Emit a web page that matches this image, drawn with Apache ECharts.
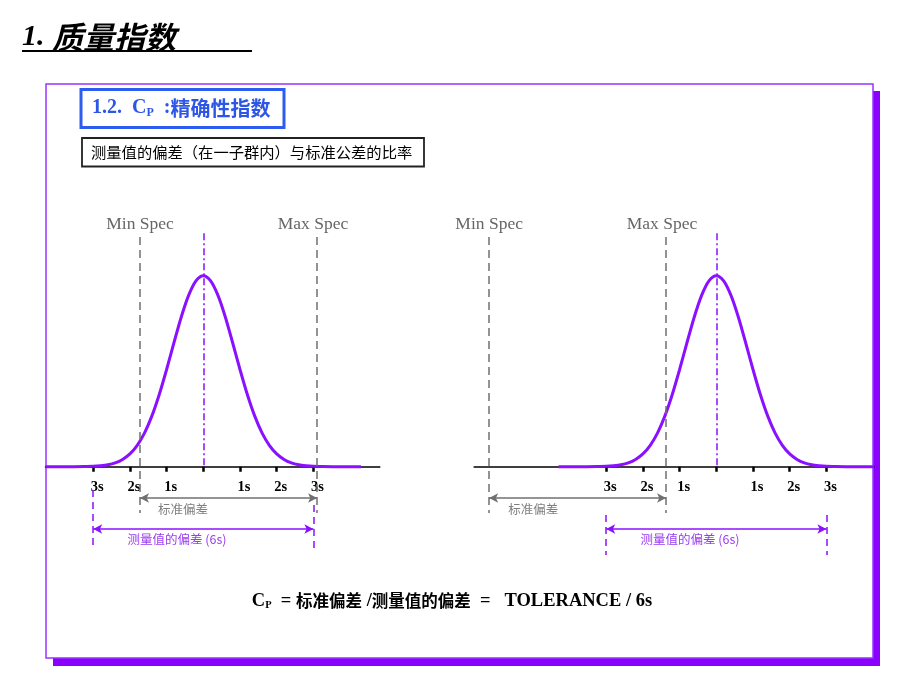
<!DOCTYPE html>
<html>
<head>
<meta charset="utf-8">
<script src="https://cdn.jsdelivr.net/npm/echarts@6.0.0/dist/echarts.min.js"></script>
<style>html,body{margin:0;padding:0;background:#fff;}#c{width:920px;height:690px;}</style>
</head>
<body>
<div id="c"></div>
<script>
// ---- data (x in units of the tick spacing "s", y relative to the peak height) ----
const curveX = [-4.3,-4.0,-3.6,-3.2,-3.0,-2.8,-2.6,-2.4,-2.2,-2.0,-1.8,-1.6,-1.4,-1.2,-1.0,-0.8,-0.6,-0.4,-0.2,0,
                0.2,0.4,0.6,0.8,1.0,1.2,1.4,1.6,1.8,2.0,2.2,2.4,2.6,2.8,3.0,3.2,3.6,4.0,4.3];
const curveY = [0,0,0,0.001,0.002,0.005,0.010,0.020,0.038,0.067,0.112,0.177,0.266,0.378,0.509,0.649,0.784,0.897,0.973,1,
                0.973,0.897,0.784,0.649,0.509,0.378,0.266,0.177,0.112,0.067,0.038,0.020,0.010,0.005,0.002,0.001,0,0,0];
const tickValues = [-3,-2,-1,0,1,2,3];
const tickLabels = ['3s','2s','1s','','1s','2s','3s'];
const specNames = ['Min Spec','Max Spec'];
const leftSpecs = [-1.725, 3.10];
const rightSpecs = [-6.19, -1.37];
const leftSpecLabelX = [-1.725, 2.99];
const rightSpecLabelX = [-6.19, -1.48];
const spread6s = [-3, 3];
const annotTexts = ['标准偏差', '测量值的偏差 (6s)'];
const leftAnnotX = [-0.553, -0.717];
const rightAnnotX = [-4.99, -0.717];

const PURPLE = '#8a10ff';
const PURPLE_TXT = '#9a3cf2';
const GRAY = '#707070';

function curveSeries(idx) {
  return {
    type: 'line', xAxisIndex: idx, yAxisIndex: idx,
    data: curveX.map((x, i) => [x, curveY[i]]),
    smooth: 0.3, showSymbol: false, silent: true, clip: false,
    lineStyle: {color: PURPLE, width: 3}, z: 3
  };
}

function annotSeries(idx, specs, specLabelX, annotX, vTop, vBot) {
  const dash = (c, d) => ({color: c, width: 1.5, type: d});
  return {
    type: 'line', xAxisIndex: idx, yAxisIndex: idx,
    data: [], showSymbol: false, silent: true, z: 4,
    markLine: {
      silent: true, symbol: 'none', label: {show: false}, animation: false,
      emphasis: {disabled: true},
      data: [
        [{coord: [specs[0], 1.202], lineStyle: dash(GRAY, [8, 5])}, {coord: [specs[0], -0.242]}],
        [{coord: [specs[1], 1.202], lineStyle: dash(GRAY, [8, 5])}, {coord: [specs[1], -0.242]}],
        [{coord: [0, 1.222], lineStyle: dash(PURPLE, [7, 3, 2, 3])}, {coord: [0, 0]}],
        [{coord: [spread6s[0], vTop[0]], lineStyle: dash(PURPLE, [7, 5])}, {coord: [spread6s[0], vBot]}],
        [{coord: [spread6s[1], vTop[1]], lineStyle: dash(PURPLE, [7, 5])}, {coord: [spread6s[1], vBot]}],
        [{coord: [specs[0], -0.164], symbol: 'arrow', symbolSize: [7, 9], lineStyle: {color: GRAY, width: 1.5, type: 'solid'}},
         {coord: [specs[1], -0.164], symbol: 'arrow', symbolSize: [7, 9]}],
        [{coord: [spread6s[0], -0.326], symbol: 'arrow', symbolSize: [7, 9], lineStyle: {color: PURPLE, width: 1.5, type: 'solid'}},
         {coord: [spread6s[1], -0.326], symbol: 'arrow', symbolSize: [7, 9]}]
      ]
    },
    markPoint: {
      silent: true, symbol: 'circle', symbolSize: 1, animation: false,
      itemStyle: {color: 'rgba(0,0,0,0)'},
      data: [
        {coord: [specLabelX[0], 1.268], label: {show: true, position: 'inside', formatter: specNames[0], color: '#666', fontSize: 17.5, fontFamily: 'Liberation Serif'}},
        {coord: [specLabelX[1], 1.268], label: {show: true, position: 'inside', formatter: specNames[1], color: '#666', fontSize: 17.5, fontFamily: 'Liberation Serif'}},
        {coord: [annotX[0], -0.222], label: {show: true, position: 'inside', formatter: annotTexts[0], color: '#808080', fontSize: 12.5, fontFamily: 'Noto Sans CJK SC'}},
        {coord: [annotX[1], -0.378], label: {show: true, position: 'inside', formatter: annotTexts[1], color: PURPLE_TXT, fontSize: 12.5, fontFamily: 'Noto Sans CJK SC'}}
      ]
    }
  };
}

function makeXAxis(idx, min, max) {
  return {
    type: 'value', gridIndex: idx, min: min, max: max,
    splitLine: {show: false},
    axisLine: {show: true, onZero: false, lineStyle: {color: '#000', width: 1.5}},
    axisTick: {show: true, length: 5, customValues: tickValues, lineStyle: {color: '#000', width: 2.5}},
    axisLabel: {
      show: true, customValues: tickValues, margin: 13.5,
      fontFamily: 'Liberation Serif', fontWeight: 'bold', fontSize: 14.5, color: '#000',
      padding: [0, 0, 0, 8],
      formatter: v => tickLabels[tickValues.indexOf(Math.round(v))] || ''
    }
  };
}
function hiddenXAxis(idx, min, max) {
  return {type: 'value', gridIndex: idx, min: min, max: max, show: false, splitLine: {show: false}};
}
function makeYAxis(idx, min, max) {
  return {type: 'value', gridIndex: idx, min: min, max: max, show: false, splitLine: {show: false}};
}

const chart = echarts.init(document.getElementById('c'), null, {renderer: 'canvas'});
const option = {
  animation: false,
  backgroundColor: '#fff',
  grid: [
    {left: 45.5, top: 199.3, width: 334.3, height: 267.4},
    {left: 474.1, top: 199.3, width: 400.0, height: 267.4},
    {left: 45.5, top: 199.3, width: 334.3, height: 362.9},
    {left: 474.1, top: 199.3, width: 400.0, height: 362.9}
  ],
  xAxis: [makeXAxis(0, -4.3, 4.81), makeXAxis(1, -6.6, 4.3), hiddenXAxis(2, -4.3, 4.81), hiddenXAxis(3, -6.6, 4.3)],
  yAxis: [makeYAxis(0, 0, 1.4), makeYAxis(1, 0, 1.4), makeYAxis(2, -0.5, 1.4), makeYAxis(3, -0.5, 1.4)],
  series: [
    curveSeries(0),
    curveSeries(1),
    annotSeries(2, leftSpecs, leftSpecLabelX, leftAnnotX, [-0.122, -0.2], -0.426),
    annotSeries(3, rightSpecs, rightSpecLabelX, rightAnnotX, [-0.253, -0.253], -0.462)
  ],
  graphic: [
    {type: 'rect', z: -2, silent: true, shape: {x: 53, y: 91, width: 827, height: 575}, style: {fill: '#8a00ff'}},
    {type: 'rect', z: -1, silent: true, shape: {x: 46, y: 84, width: 827, height: 574}, style: {fill: '#fff', stroke: '#9a33ff', lineWidth: 1.5}},
    {type: 'text', z: 10, silent: true, x: 22, y: 37,
     style: {text: '{n|1. }{c|质量指数}', verticalAlign: 'middle', align: 'left',
       rich: {
         n: {fontFamily: 'Liberation Serif', fontWeight: 'bold', fontStyle: 'italic', fontSize: 30, fill: '#000'},
         c: {fontFamily: 'Noto Sans CJK SC', fontWeight: 'bold', fontStyle: 'italic', fontSize: 31, fill: '#000'}
       }}},
    {type: 'line', z: 10, silent: true, shape: {x1: 22, y1: 51, x2: 252, y2: 51}, style: {stroke: '#000', lineWidth: 2}},
    {type: 'rect', z: 10, silent: true, shape: {x: 81, y: 89.5, width: 203, height: 38}, style: {fill: '#fff', stroke: '#2d5cf0', lineWidth: 3}},
    {type: 'text', z: 11, silent: true, x: 92, y: 108,
     style: {text: '{a|1.2.  C}{s|P}{a|  :}{c|精确性指数}', verticalAlign: 'middle', align: 'left',
       rich: {
         a: {fontFamily: 'Liberation Serif', fontWeight: 'bold', fontSize: 20, fill: '#2d55e6'},
         s: {fontFamily: 'Liberation Serif', fontWeight: 'bold', fontSize: 12, fill: '#2d55e6', padding: [10, 0, 0, 0]},
         c: {fontFamily: 'Noto Sans CJK SC', fontWeight: 'bold', fontSize: 20, fill: '#2d55e6'}
       }}},
    {type: 'rect', z: 10, silent: true, shape: {x: 82, y: 138, width: 342, height: 28.5}, style: {fill: '#fff', stroke: '#222', lineWidth: 1.8}},
    {type: 'text', z: 11, silent: true, x: 91, y: 152.5,
     style: {text: '测量值的偏差（在一子群内）与标准公差的比率', verticalAlign: 'middle', align: 'left',
       font: '15.3px "Noto Sans CJK SC"', fill: '#000'}},
    {type: 'text', z: 11, silent: true, x: 452, y: 601,
     style: {text: '{b|C}{s|P}{b|  = }{c|标准偏差}{b| /}{c|测量值的偏差}{b|  =   TOLERANCE / 6s}', verticalAlign: 'middle', align: 'center',
       rich: {
         b: {fontFamily: 'Liberation Serif', fontWeight: 'bold', fontSize: 18.5, fill: '#000'},
         s: {fontFamily: 'Liberation Serif', fontWeight: 'bold', fontSize: 10.5, fill: '#000', padding: [8, 0, 0, 0]},
         c: {fontFamily: 'Noto Sans CJK SC', fontWeight: 'bold', fontSize: 16.5, fill: '#000'}
       }}}
  ]
};
chart.setOption(option);
</script>
</body>
</html>
